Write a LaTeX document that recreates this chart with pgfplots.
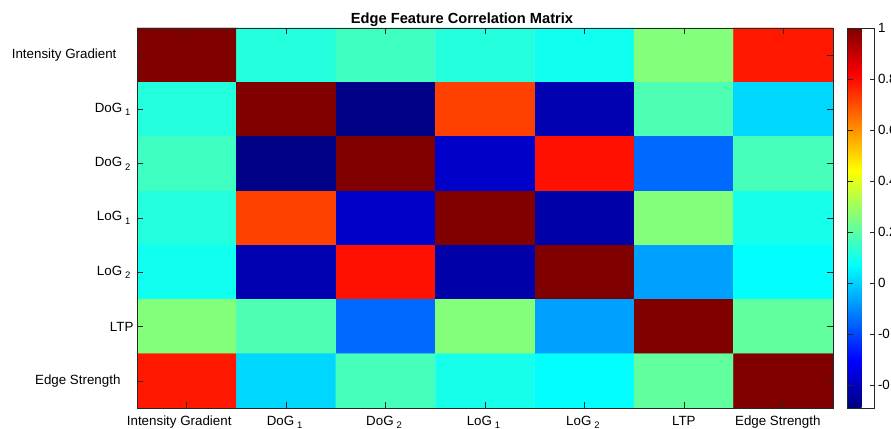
\documentclass[border=0pt]{standalone}
\usepackage{fontspec}
\setmainfont{Liberation Sans}
\usepackage{pgfplots}
\usepackage{pgfplotstable}
\pgfplotsset{compat=1.18}

% lowered, smaller index as in "DoG_1"
\newcommand{\sub}[1]{\kern3bp\raisebox{-3.5bp}{\fontsize{9.5}{10}\selectfont #1}}
% fixed trailing room after a label
\newcommand{\pad}[1]{\rule{#1}{0pt}}

% correlation matrix: x = column, y = 6 - row (row 0 on top)
\pgfplotstableread{
x y c
0 6 1.00
1 6 0.12
2 6 0.16
3 6 0.12
4 6 0.09
5 6 0.26
6 6 0.78
0 5 0.12
1 5 1.00
2 5 -0.48
3 5 0.72
4 5 -0.42
5 5 0.18
6 5 0.01
0 4 0.16
1 4 -0.48
2 4 1.00
3 4 -0.38
4 4 0.79
5 4 -0.15
6 4 0.17
0 3 0.12
1 3 0.72
2 3 -0.38
3 3 1.00
4 3 -0.43
5 3 0.26
6 3 0.10
0 2 0.09
1 2 -0.42
2 2 0.79
3 2 -0.43
4 2 1.00
5 2 -0.07
6 2 0.07
0 1 0.26
1 1 0.18
2 1 -0.15
3 1 0.26
4 1 -0.07
5 1 1.00
6 1 0.21
0 0 0.78
1 0 0.01
2 0 0.17
3 0 0.10
4 0 0.07
5 0 0.21
6 0 1.00
}\corr

\begin{document}
\begin{tikzpicture}
\useasboundingbox (-137bp,-21bp) rectangle (754bp,408bp);
\begin{axis}[
  overlay,
  scale only axis,
  width=696bp, height=380bp,
  xmin=-0.5, xmax=6.5, ymin=-0.5, ymax=6.5,
  enlargelimits=false,
  axis on top,
  colormap/jet,
  point meta min=-0.49, point meta max=1,
  xtick={0,...,6}, ytick={0,...,6},
  xticklabels={Intensity Gradient\pad{15bp}, DoG\sub{1}\pad{3bp}, DoG\sub{2}\pad{3bp}, LoG\sub{1}\pad{3bp}, LoG\sub{2}\pad{3bp}, LTP, Edge Strength\pad{11bp}},
  yticklabels={Edge Strength\pad{13bp}, LTP, LoG\sub{2}\pad{3bp}, LoG\sub{1}\pad{3bp}, DoG\sub{2}\pad{3bp}, DoG\sub{1}\pad{3bp}, Intensity Gradient\pad{17bp}},
  xtick pos=both, ytick pos=both,
  xticklabel pos=lower, yticklabel pos=left,
  tick align=inside,
  major tick length=6bp,
  tick style={black!85, line width=0.6bp},
  axis line style={black!85, line width=0.6bp},
  tick label style={font=\fontsize{13.4}{16}\selectfont},
  xticklabel style={yshift=-4.5bp},
  title={Edge Feature Correlation Matrix},
  title style={font=\fontsize{14.7}{17}\selectfont\bfseries,
    at={(rel axis cs:0.467,1)}, anchor=base, yshift=-1.5bp},
  colorbar,
  colorbar style={
    scale only axis,
    width=27bp, height=380bp,
    at={(parent axis.north east)}, anchor=north west, xshift=6bp,
    ytick={-0.4,-0.2,0,0.2,0.4,0.6,0.8,1},
    yticklabels={-0.4,-0.2,0,0.2,0.4,0.6,0.8,1},
    tick align=inside,
    major tick length=5bp,
    tick style={black!85, line width=0.6bp},
    axis line style={black!85, line width=0.6bp},
    tick label style={font=\fontsize{13.4}{16}\selectfont},
  },
]
\addplot[matrix plot*, mesh/cols=7, point meta=explicit]
  table[x=x, y=y, meta=c] {\corr};
\end{axis}
\end{tikzpicture}
\end{document}
